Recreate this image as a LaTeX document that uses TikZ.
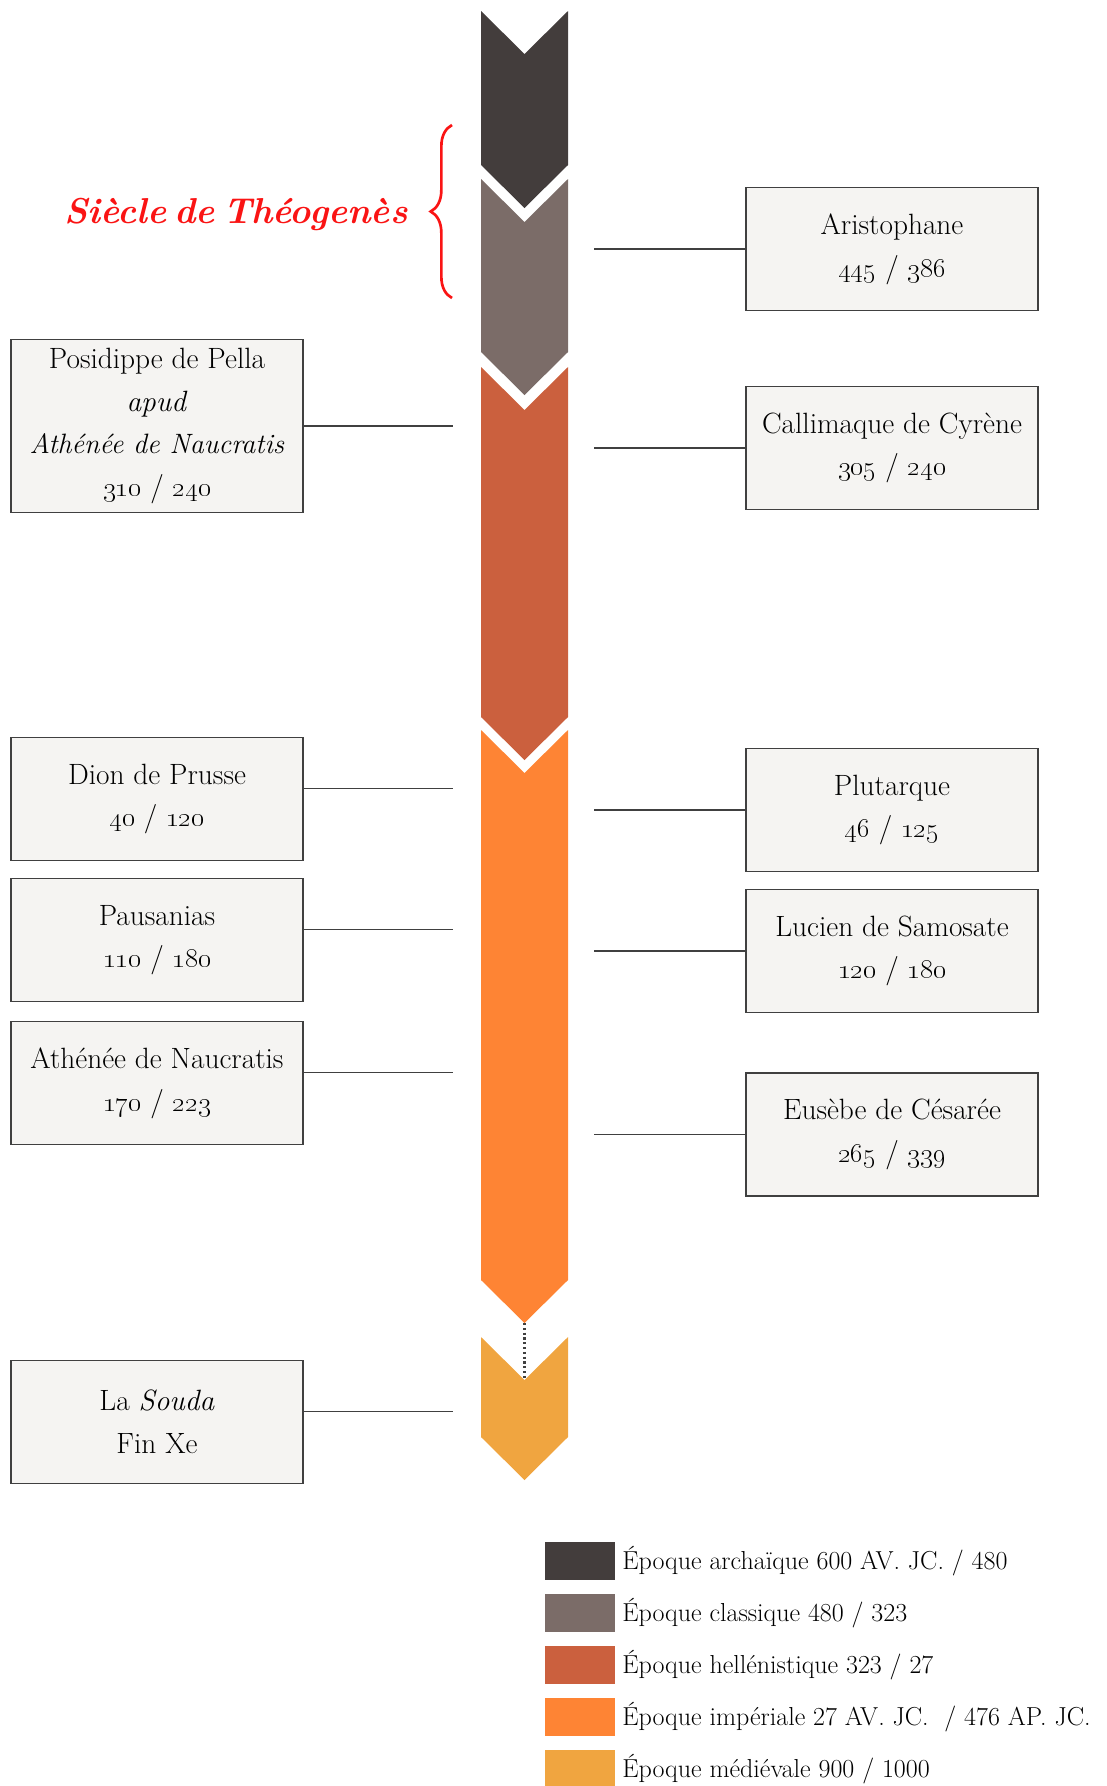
\documentclass[tikz,border=0pt]{standalone}
\usetikzlibrary{positioning,decorations.pathreplacing}

\definecolor{archaic}{RGB}{67,61,60}
\definecolor{classic}{RGB}{123,108,104}
\definecolor{hellen}{RGB}{203,96,62}
\definecolor{imperial}{RGB}{254,132,52}
\definecolor{medieval}{RGB}{240,165,64}
\definecolor{boxfill}{RGB}{245,244,242}
\definecolor{boxline}{RGB}{64,64,64}
\definecolor{titlered}{RGB}{250,20,20}

\newcommand{\yrs}[2]{\oldstylenums{#1} / \oldstylenums{#2}}

\tikzset{every picture/.style={line width=0.75pt}}
\tikzset{
  box/.style={draw=boxline, fill=boxfill, line width=1.1pt, minimum width=219pt, minimum height=92pt,
    inner sep=2pt, align=center, font=\fontsize{22}{32}\selectfont},
  link/.style={draw=boxline, line width=1.1pt},
  swatch/.style={minimum width=52pt, minimum height=28.5pt, inner sep=0pt},
  legtext/.style={inner sep=0pt, font=\fontsize{19.5}{22}\selectfont},
}

\begin{document}
\begin{tikzpicture}[x=0.75pt,y=0.75pt,yscale=-1,xscale=1]
	\useasboundingbox (0,0) rectangle (1107,1786);

	%Shape: Chevron archaic
	\draw  [draw opacity=0][fill=archaic] (481,11) -- (524.5,54) -- (568,11) -- (568,165) -- (524.5,208) -- (481,165) -- cycle ;
	%Shape: Chevron classic
	\draw  [draw opacity=0][fill=classic] (481,179) -- (524.5,222) -- (568,179) -- (568,352) -- (524.5,395) -- (481,352) -- cycle ;
	%Shape: Chevron hellenistic
	\draw  [draw opacity=0][fill=hellen] (481,367) -- (524.5,410) -- (568,367) -- (568,717) -- (524.5,760) -- (481,717) -- cycle ;
	%Shape: Chevron imperial
	\draw  [draw opacity=0][fill=imperial] (481,730) -- (524.5,773) -- (568,730) -- (568,1280) -- (524.5,1323) -- (481,1280) -- cycle ;
	%Shape: Chevron medieval
	\draw  [draw opacity=0][fill=medieval] (481,1337) -- (524.5,1380) -- (568,1337) -- (568,1437) -- (524.5,1480) -- (481,1437) -- cycle ;

	%Dotted gap
	\coordinate (tipImp) at (524.5,1323);
	\coordinate (notchMed) at (524.5,1380);
	\draw [boxline, line width=1.6pt, dotted] (tipImp) -- (notchMed) ;

	%Rails
	\coordinate (railL) at (453,0);
	\coordinate (railR) at (594,0);

	% Text Node
	\draw (236,214) node [text=titlered, font=\fontsize{27}{30}\selectfont\bfseries\itshape] (siecle) {Siècle\hspace{0.22em}de\hspace{0.22em}Théogenès};
	%Curly Brace
	\draw [titlered, line width=2pt, decorate, decoration={brace, amplitude=16pt}] (452,298) -- (452,125) ;

	% Text Node
	\draw (892,249) node [box] (aristo) {Aristophane\\\yrs{445}{386}};
	% Text Node
	\draw (892,448) node [box] (callim) {Callimaque de Cyrène\\\yrs{305}{240}};
	% Text Node
	\draw (892,810) node [box] (plut) {Plutarque\\\yrs{46}{125}};
	% Text Node
	\draw (892,951) node [box] (lucien) {Lucien de Samosate\\\yrs{120}{180}};
	% Text Node
	\draw (892,1134.5) node [box] (eusebe) {Eusèbe de Césarée\\\yrs{265}{339}};

	% Text Node
	\draw (157,426) node [box, minimum height=130pt] (posid) {Posidippe de Pella\\\textit{apud}\\{\fontsize{21}{32}\selectfont\textit{Athénée de Naucratis}}\\\yrs{310}{240}};
	% Text Node
	\draw (157,799) node [box] (dion) {Dion de Prusse\\\yrs{40}{120}};
	% Text Node
	\draw (157,940) node [box] (pausan) {Pausanias\\\yrs{110}{180}};
	% Text Node
	\draw (157,1083) node [box] (athenee) {Athénée de Naucratis\\\yrs{170}{223}};
	% Text Node
	\draw (157,1422) node [box] (souda) {La \textit{Souda}\\Fin Xe};

	%Straight Lines
	\draw [link] (aristo.west) -- (aristo.west -| railR) ;
	\draw [link] (callim.west) -- (callim.west -| railR) ;
	\draw [link] (plut.west) -- (plut.west -| railR) ;
	\draw [link] (lucien.west) -- (lucien.west -| railR) ;
	\draw [link] (eusebe.west) -- (eusebe.west -| railR) ;
	\draw [link] (posid.east) -- (posid.east -| railL) ;
	\draw [link] (dion.4) -- (dion.4 -| railL) ;
	\draw [link] (pausan.4) -- (pausan.4 -| railL) ;
	\draw [link] (athenee.4) -- (athenee.4 -| railL) ;
	\draw [link] (souda.4) -- (souda.4 -| railL) ;

	%Legend
	\draw (580,1561) node [swatch, fill=archaic] (legA) {};
	\draw (580,1613) node [swatch, fill=classic] (legC) {};
	\draw (580,1665) node [swatch, fill=hellen] (legH) {};
	\draw (580,1717) node [swatch, fill=imperial] (legI) {};
	\draw (580,1769) node [swatch, fill=medieval] (legM) {};
	\node [legtext, right=5pt of legA] (txtA) {Époque archaïque 600 AV. JC. / 480};
	\node [legtext, right=5pt of legC] (txtC) {Époque classique 480 / 323};
	\node [legtext, right=5pt of legH] (txtH) {Époque hellénistique 323 / 27};
	\node [legtext, right=5pt of legI] (txtI) {Époque impériale 27 AV. JC. ~/ 476 AP. JC.};
	\node [legtext, right=5pt of legM] (txtM) {Époque médiévale 900 / 1000};

\end{tikzpicture}
\end{document}
